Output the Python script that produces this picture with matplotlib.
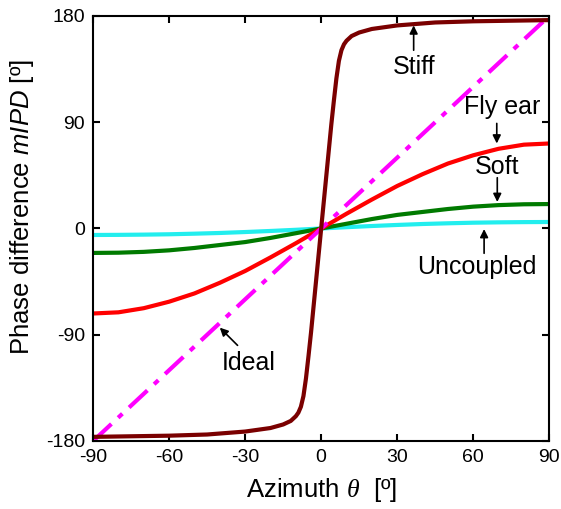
import matplotlib.pyplot as plt
import numpy as np

plt.rcParams.update({
    "font.family": "Liberation Sans",
    "mathtext.fontset": "custom",
    "mathtext.sf": "Liberation Sans:italic",
    "mathtext.it": "Liberation Serif:italic",
    "mathtext.rm": "Liberation Sans",
    "axes.unicode_minus": False,
})

# azimuth samples (deg) for the smooth curves, positive half; curves are odd
theta_half = [0, 10, 20, 30, 40, 50, 60, 70, 80, 90]
fly_half = [0, 12.5, 24.5, 36, 46, 55, 62, 67.5, 71, 72]
soft_half = [0, 4, 8, 11.5, 14, 16.5, 18.5, 19.8, 20.5, 20.7]
unc_half = [0, 1.1, 2.1, 3.0, 3.8, 4.4, 4.9, 5.2, 5.4, 5.5]

stiff_theta_half = [0, 1, 2, 3, 4, 5, 6, 7, 8, 9, 10, 12, 15, 20, 30, 45, 60, 90]
stiff_half = [0, 22, 44, 66, 88, 108, 127, 142, 151, 156, 159, 163, 166, 169,
              172, 174.5, 175.5, 176.5]

ideal_theta = [-90, 0, 90]
ideal_vals = [-180, 0, 180]


def mirror(xs, ys):
    xs = np.asarray(xs, float)
    ys = np.asarray(ys, float)
    return np.concatenate([-xs[:0:-1], xs]), np.concatenate([-ys[:0:-1], ys])


fig = plt.figure(figsize=(5.61, 5.09), dpi=100)
ax = fig.add_axes([0.166, 0.1336, 0.813, 0.835])

lw = 3.0
x, y = mirror(theta_half, unc_half)
ax.plot(x, y, color="#22EEEE", lw=lw, solid_capstyle="butt")
x, y = mirror(theta_half, soft_half)
ax.plot(x, y, color="#007A00", lw=lw, solid_capstyle="butt")
x, y = mirror(theta_half, fly_half)
ax.plot(x, y, color="#FF0000", lw=lw, solid_capstyle="butt")
ax.plot(ideal_theta, ideal_vals, color="#FF00FF", lw=lw,
        dashes=(6, 2.2, 1.4, 2.2))
x, y = mirror(stiff_theta_half, stiff_half)
ax.plot(x, y, color="#7A0000", lw=lw, solid_capstyle="butt")

ax.set_xlim(-90, 90)
ax.set_ylim(-180, 180)
ax.set_xticks(np.arange(-90, 91, 30))
ax.set_yticks([-180, -90, 0, 90, 180])
ax.tick_params(direction="in", length=5, width=1.5, labelsize=14,
               top=True, right=True, pad=6)
for s in ax.spines.values():
    s.set_linewidth(1.5)

ax.set_xlabel(r"Azimuth $\theta$  [º]", fontsize=18.5)
ax.set_ylabel(r"Phase difference $\mathsf{mIPD}$ [º]", fontsize=18.5)
ax.xaxis.set_label_coords(0.5, -0.082)
ax.yaxis.set_label_coords(-0.125, 0.55)

arrow = dict(arrowstyle="-|>", color="black", lw=1.2, mutation_scale=12,
             shrinkA=0, shrinkB=0)
fs = 18
ax.text(36.5, 137, "Stiff", fontsize=fs, ha="center", va="center")
ax.annotate("", xy=(36.5, 172), xytext=(36.5, 151), arrowprops=arrow)
ax.text(71.5, 103, "Fly ear", fontsize=fs, ha="center", va="center")
ax.annotate("", xy=(69.3, 72), xytext=(69.3, 89), arrowprops=arrow)
ax.text(69.5, 52, "Soft", fontsize=fs, ha="center", va="center")
ax.annotate("", xy=(69.5, 22.5), xytext=(69.5, 43), arrowprops=arrow)
ax.text(61.5, -33, "Uncoupled", fontsize=fs, ha="center", va="center")
ax.annotate("", xy=(64.3, -0.5), xytext=(64.3, -21), arrowprops=arrow)
ax.text(-28.8, -114, "Ideal", fontsize=fs, ha="center", va="center")
ax.annotate("", xy=(-40, -84), xytext=(-33, -99), arrowprops=arrow)

fig.savefig("out.png", dpi=100)
